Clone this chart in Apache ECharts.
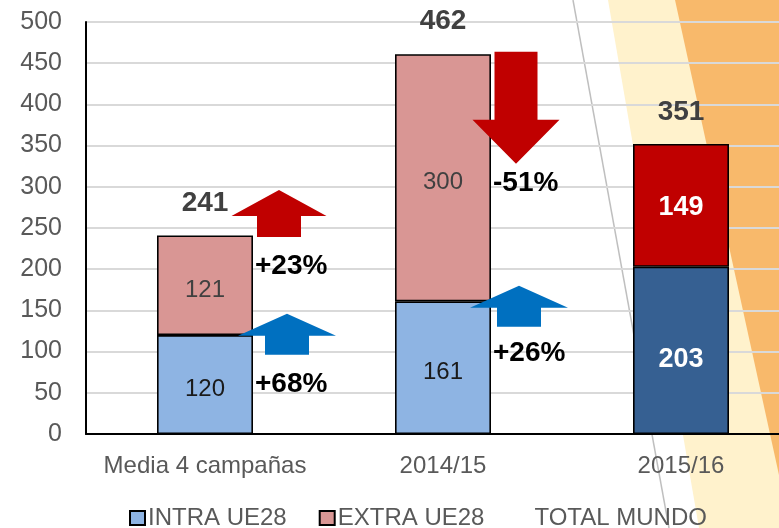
<!DOCTYPE html>
<html><head><meta charset="utf-8">
<script src="https://cdn.jsdelivr.net/npm/echarts@6/dist/echarts.min.js"></script>
<style>html,body{margin:0;padding:0;background:#fff}#c{width:779px;height:528px}</style>
</head><body><div id="c"></div>
<script>
// ---- data ----
const categories = ['Media 4 campañas', '2014/15', '2015/16'];
const intraUE28 = [120, 161, 203];
const extraUE28 = [121, 300, 149];
const totalMundo = [241, 462, 351];
const yMin = 0, yMax = 500, yInterval = 50;
// change annotations (text, category, value level of the text)
const changeText = ['+23%', '+68%', '-51%', '+26%'];
const changeCat = [0, 0, 1, 1];
const changeLevel = [205, 62, 306, 99];
// arrow annotations (category, value of the tip, direction)
const arrowCat = [0, 0, 1, 1];
const arrowTip = [296, 146, 328, 180];
const arrowDir = ['up', 'up', 'down', 'up'];
const arrowKind = ['extra', 'intra', 'extra', 'intra'];

const F = '"Liberation Sans", Arial, sans-serif';
const chart = echarts.init(document.getElementById('c'), null, {renderer: 'canvas'});

function bar3(v, color, dy) {
  return {value: v, itemStyle: {color: color},
    label: {color: '#fff', fontWeight: 'bold', fontSize: 27, offset: [0, dy]}};
}

chart.setOption({
  animation: false,
  backgroundColor: '#fff',
  textStyle: {fontFamily: F},
  grid: {left: 86, right: -21, top: 22, bottom: 94, outerBoundsMode: 'none', containLabel: false},
  legend: {
    left: 129, top: 506, padding: 0, itemWidth: 15, itemHeight: 14, itemGap: 32,
    icon: 'rect',
    textStyle: {fontSize: 24, color: '#595959', fontFamily: F, padding: [0, 0, 0, -2]},
    data: ['INTRA UE28', 'EXTRA UE28', 'TOTAL MUNDO']
  },
  xAxis: {
    type: 'category', data: categories,
    axisLine: {lineStyle: {color: '#000', width: 2}},
    axisTick: {show: false},
    axisLabel: {interval: 0, fontSize: 24, color: '#595959', margin: 20, fontFamily: F}
  },
  yAxis: {
    type: 'value', min: yMin, max: yMax, interval: yInterval,
    axisLine: {show: true, lineStyle: {color: '#000', width: 2}},
    axisTick: {show: false},
    axisLabel: {fontSize: 25, color: '#595959', margin: 24, fontFamily: F},
    splitLine: {lineStyle: {color: '#D9D9D9', width: 2}}
  },
  series: [
    {
      name: 'INTRA UE28', type: 'bar', stack: 't', barWidth: 96, barGap: '-100%',
      data: intraUE28.map((v, i) => i === 2 ? bar3(v, '#366092', 9) : v),
      itemStyle: {color: '#8EB4E3', borderColor: '#000', borderWidth: 1.6},
      label: {show: true, position: 'inside', color: '#1a1a1a', fontSize: 24, fontFamily: F, offset: [0, 5]},
      z: 3
    },
    {
      name: 'EXTRA UE28', type: 'bar', stack: 't', barWidth: 96, barGap: '-100%',
      data: extraUE28.map((v, i) => i === 2 ? bar3(v, '#C00000', 2) : v),
      itemStyle: {color: '#D99694', borderColor: '#000', borderWidth: 1.6},
      label: {show: true, position: 'inside', color: '#404040', fontSize: 24, fontFamily: F, offset: [0, 5]},
      z: 3
    },
    {
      name: 'TOTAL MUNDO', type: 'bar', barWidth: 96, barGap: '-100%', silent: true,
      data: totalMundo,
      itemStyle: {color: 'rgba(0,0,0,0)', borderWidth: 0},
      label: {show: true, position: 'top', distance: 18, color: '#404040',
        fontSize: 28, fontWeight: 'bold', fontFamily: F},
      z: 4
    }
  ]
});

// ---- annotations placed through the axes ----
const W = chart.getWidth(), H = chart.getHeight();
const graphics = [
  {type: 'polygon', z: -10, silent: true,
   shape: {points: [[608, 0], [W, 0], [W, H], [699, H]]}, style: {fill: '#FFF2CC'}},
  {type: 'polygon', z: -9, silent: true,
   shape: {points: [[675, 0], [W, 0], [W, 475]]}, style: {fill: '#F8B96B'}},
  {type: 'line', z: -8, silent: true,
   shape: {x1: 573, y1: 0, x2: 669, y2: H}, style: {stroke: '#BFBFBF', lineWidth: 1.5}}
];

const arrowStyle = {extra: {fill: '#C00000'}, intra: {fill: '#0070C0'}};
const arrowDx = [74, 82, 73, 76];
for (let k = 0; k < arrowCat.length; k++) {
  const p = chart.convertToPixel({gridIndex: 0}, [arrowCat[k], arrowTip[k]]);
  const up = arrowDir[k] === 'up';
  const x = p[0] + arrowDx[k];
  const y = p[1];
  const s = up ? 1 : -1;
  const headH = up ? (arrowKind[k] === 'intra' ? 22 : 26) : 44;
  const headHalf = up ? (arrowKind[k] === 'intra' ? 49 : 47.5) : 43.5;
  const stemHalf = up ? 22 : 21.5;
  const len = up ? (arrowKind[k] === 'intra' ? 41 : 47) : 112;
  graphics.push({
    type: 'polygon', z: 5, silent: true,
    shape: {points: [
      [x, y], [x + headHalf, y + s * headH], [x + stemHalf, y + s * headH],
      [x + stemHalf, y + s * len], [x - stemHalf, y + s * len],
      [x - stemHalf, y + s * headH], [x - headHalf, y + s * headH]
    ]},
    style: arrowStyle[arrowKind[k]]
  });
}
for (let k = 0; k < changeText.length; k++) {
  const p = chart.convertToPixel({gridIndex: 0}, [changeCat[k], changeLevel[k]]);
  graphics.push({
    type: 'text', z: 6, silent: true,
    x: p[0] + 50, y: p[1] + 1,
    style: {text: changeText[k], fill: '#000', font: 'bold 28px ' + F,
      textAlign: 'left', textVerticalAlign: 'middle'}
  });
}
chart.setOption({graphic: graphics});
</script>
</body></html>
